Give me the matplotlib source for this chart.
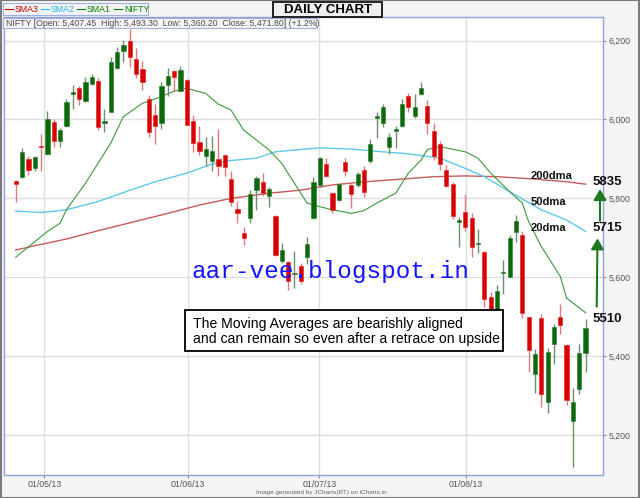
import matplotlib
matplotlib.use('Agg')
import matplotlib.pyplot as plt
from matplotlib.patches import Rectangle, FancyArrowPatch
from matplotlib.lines import Line2D

# ---------------- data ----------------
opens = [5844, 5855, 5900, 5878, 5933, 5912, 5994, 5945, 5984, 6065,
         6079, 6047, 6090, 6098, 5992, 6020, 6130, 6174, 6200, 6153,
         6128, 6052, 6011, 5990, 6087, 6122, 6073, 6100, 5997, 5942,
         5908, 5895, 5900, 5910, 5849, 5772, 5711, 5750, 5821, 5842,
         5807, 5756, 5641, 5638, 5609, 5629, 5651, 5750, 5834, 5886,
         5814, 5796, 5891, 5834, 5834, 5872, 5895, 6003, 5992, 5931,
         5972, 5984, 6060, 6010, 6065, 6034, 5971, 5938, 5872, 5836,
         5741, 5766, 5750, 5685, 5665, 5549, 5511, 5610, 5601, 5716,
         5707, 5499, 5354, 5497, 5283, 5430, 5500, 5428, 5236, 5317,
         5407.45]
highs = [5846, 5927, 5908, 5908, 5963, 6021, 6000, 5978, 6052, 6087,
         6085, 6108, 6115, 6106, 6027, 6159, 6183, 6201, 6229, 6180,
         6149, 6062, 6039, 6094, 6130, 6125, 6136, 6102, 6011, 5983,
         5956, 5958, 5975, 5912, 5869, 5793, 5728, 5821, 5857, 5864,
         5830, 5758, 5688, 5640, 5667, 5637, 5701, 5855, 5906, 5902,
         5817, 5840, 5902, 5836, 5866, 5882, 5950, 6020, 6039, 5967,
         5983, 6051, 6068, 6065, 6096, 6049, 5992, 5946, 5885, 5842,
         5754, 5810, 5764, 5722, 5667, 5562, 5580, 5644, 5707, 5758,
         5717, 5500, 5418, 5506, 5421, 5481, 5531, 5430, 5319, 5430,
         5493.30]
lows = [5792, 5852, 5859, 5869, 5869, 5910, 5931, 5929, 5982, 6027,
        6037, 6045, 6087, 5973, 5969, 6018, 6128, 6146, 6134, 6104,
        6075, 5956, 5938, 5976, 6060, 6070, 6072, 5985, 5918, 5910,
        5883, 5869, 5857, 5857, 5781, 5738, 5682, 5738, 5771, 5806,
        5779, 5655, 5635, 5568, 5572, 5582, 5633, 5748, 5830, 5855,
        5762, 5794, 5857, 5775, 5830, 5804, 5889, 5952, 5982, 5912,
        5927, 5982, 6020, 6003, 6062, 5963, 5897, 5872, 5830, 5749,
        5678, 5717, 5651, 5662, 5524, 5487, 5509, 5558, 5600, 5690,
        5497, 5361, 5306, 5270, 5255, 5380, 5455, 5276, 5120, 5303,
        5360.20]
closes = [5837, 5917, 5872, 5906, 5931, 6000, 5945, 5973, 6045, 6070,
          6052, 6095, 6107, 5981, 5997, 6146, 6170, 6189, 6158, 6115,
          6096, 5969, 5984, 6085, 6111, 6107, 6125, 5986, 5940, 5921,
          5925, 5921, 5882, 5879, 5790, 5762, 5700, 5810, 5851, 5814,
          5823, 5657, 5669, 5591, 5612, 5591, 5684, 5842, 5902, 5857,
          5771, 5836, 5869, 5811, 5861, 5816, 5937, 6009, 6032, 5956,
          5975, 6039, 6031, 6032, 6079, 5992, 5908, 5887, 5831, 5756,
          5744, 5728, 5677, 5687, 5544, 5520, 5566, 5614, 5699, 5743,
          5509, 5416, 5405, 5304, 5410, 5473, 5479, 5289, 5285, 5409,
          5471.80]

# moving averages (x = trading-day index)
sma1_x = [0, 2, 5, 7, 8, 11, 13, 15, 17, 20, 23, 25, 27, 30, 32, 34, 36, 40, 42,
          46, 48, 50, 53, 55, 57, 60, 62, 64, 65, 67, 71, 73, 75, 78, 80, 81, 83, 86, 87, 90]
sma1_y = [5651, 5677, 5716, 5737, 5771, 5838, 5889, 5940, 6007, 6041, 6058, 6072, 6079,
          6066, 6039, 6024, 5973, 5923, 5889, 5788, 5779, 5771, 5762, 5769, 5788, 5813,
          5864, 5897, 5924, 5931, 5918, 5902, 5864, 5817, 5788, 5741, 5678, 5602, 5547, 5510]
sma2_x = [0, 4, 8, 13, 19, 22, 27, 31, 34, 38, 41, 45, 48, 53, 58, 62, 67, 71, 74, 78, 83, 87, 90]
sma2_y = [5768, 5764, 5771, 5792, 5826, 5842, 5864, 5887, 5896, 5902, 5918, 5924, 5928,
          5925, 5918, 5913, 5902, 5876, 5855, 5817, 5771, 5745, 5716]
sma3_x = [0, 3, 8, 13, 19, 24, 29, 34, 40, 45, 50, 55, 61, 66, 71, 76, 82, 87, 90]
sma3_y = [5669, 5680, 5697, 5718, 5742, 5762, 5783, 5800, 5813, 5821, 5834, 5842, 5849,
          5855, 5857, 5855, 5849, 5842, 5836]

y_ticks = [5200, 5400, 5600, 5800, 6000, 6200]
y_tick_labels = ['5,200', '5,400', '5,600', '5,800', '6,000', '6,200']
x_ticks = [4.52, 27.25, 47.94, 71.06]
x_tick_labels = ['01/05/13', '01/06/13', '01/07/13', '01/08/13']

# ---------------- figure ----------------
W, H = 640, 498
fig = plt.figure(figsize=(6.4, 4.98), dpi=100, facecolor='#f4f4f4')
plt.rcParams['font.family'] = ['Liberation Sans', 'DejaVu Sans']


def fx(x):
    return x / W


def fy(y):
    return 1 - y / H


ax = fig.add_axes([fx(3.5), fy(474.5), fx(603) - fx(3.5), fy(16.7) - fy(474.5)])
ax.set_facecolor('white')
ax.set_xlim(-1.93, 92.74)
ax.set_ylim(5100, 6260.6)

for s in ax.spines.values():
    s.set_color('#8ea2dc')
    s.set_linewidth(1.0)

ax.grid(True, color='#dedede', lw=1.0, zorder=0)
ax.set_axisbelow(True)

ax.yaxis.tick_right()
ax.set_yticks(y_ticks)
ax.set_yticklabels(y_tick_labels)
ax.set_xticks(x_ticks)
ax.set_xticklabels(x_tick_labels)
ax.tick_params(axis='both', colors='#8a8a8a', labelcolor='#555555', labelsize=6.3,
               length=2.5, width=0.8, pad=1.5)

# moving averages
ax.plot(sma3_x, sma3_y, color='#c75a5a', lw=1.0, zorder=2)
ax.plot(sma2_x, sma2_y, color='#5cc8ec', lw=1.0, zorder=2)
ax.plot(sma1_x, sma1_y, color='#3a9a3a', lw=0.8, zorder=2)

# candles
for i, (o, h, l, c) in enumerate(zip(opens, highs, lows, closes)):
    up = c >= o
    wick = '#6e8f6e' if up else '#e07a7a'
    body = '#0a6a0a' if up else '#d90000'
    edge = '#3f7f3f' if up else '#e03030'
    ax.vlines(i, l, h, color=wick, lw=1.0, zorder=3)
    ax.bar(i, max(abs(c - o), 2.5), bottom=min(o, c), width=0.68,
           color=body, edgecolor=edge, linewidth=0.5, zorder=4)

# ---------------- header ----------------
# legend box
fig.patches.append(Rectangle((fx(3), fy(15.5)), fx(147.5) - fx(3), fy(3) - fy(15.5),
                             transform=fig.transFigure, facecolor='#f4f4f4',
                             edgecolor='#9fb0e0', lw=0.8))
leg = [('SMA3', '#c00000', 5), ('SMA2', '#20b8ea', 41), ('SMA1', '#008000', 77), ('NIFTY', '#008000', 114)]
for name, col, x0 in leg:
    fig.add_artist(Line2D([fx(x0), fx(x0 + 8)], [fy(9), fy(9)], color=col, lw=0.8,
                          transform=fig.transFigure))
    fig.text(fx(x0 + 10), fy(9.3), name, color=col, fontsize=6.3, va='center', ha='left')

# info box
fig.patches.append(Rectangle((fx(3), fy(28.5)), fx(316) - fx(3), fy(18.3) - fy(28.5),
                             transform=fig.transFigure, facecolor='#f6f6f6',
                             edgecolor='#9fb0e0', lw=0.8, zorder=5))
fig.text(fx(6.5), fy(23.6),
         'NIFTY [Open: 5,407.45  High: 5,493.30  Low: 5,360.20  Close: 5,471.80] (+1.2%)',
         color='#4a4a4a', fontsize=6.3, va='center', ha='left', zorder=6)

# title box
fig.patches.append(Rectangle((fx(273), fy(17.3)), fx(382) - fx(273), fy(2.3) - fy(17.3),
                             transform=fig.transFigure, facecolor='#f0f0f0',
                             edgecolor='#222222', lw=1.4))
fig.text(fx(327.5), fy(10), 'DAILY CHART', fontsize=9.5, fontweight='bold',
         color='black', ha='center', va='center')

# footer
fig.text(fx(321), fy(492.5), 'Image generated by JCharts(RT) on iCharts.in',
         fontsize=4.6, color='#666666', ha='center', va='center')

# outer frame
fig.patches.append(Rectangle((0.001, 0.001), 0.998, 0.998, transform=fig.transFigure,
                             fill=False, edgecolor='#7a7a7a', lw=1.5))

# ---------------- annotations ----------------
fig.text(fx(191.7), fy(277.5), 'aar-vee.blogspot.in', family='Liberation Mono',
         fontsize=17.6, color='#1414ff', ha='left', va='baseline', zorder=7)

fig.patches.append(Rectangle((fx(185.3), fy(351)), fx(503.3) - fx(185.3), fy(310.3) - fy(351),
                             transform=fig.transFigure, facecolor='white',
                             edgecolor='black', lw=1.3, zorder=6))
fig.text(fx(192.7), fy(328), 'The Moving Averages are bearishly aligned',
         fontsize=10.1, color='black', ha='left', va='baseline', zorder=7)
fig.text(fx(192.7), fy(342.7), 'and can remain so even after a retrace on upside',
         fontsize=10.1, color='black', ha='left', va='baseline', zorder=7)

for txt, y in [('200dma', 175.7), ('50dma', 201.7), ('20dma', 227.7)]:
    fig.text(fx(530.7), fy(y), txt, fontsize=8, fontweight='bold', color='#111111',
             ha='left', va='center', zorder=7)
for txt, y in [('5835', 182.3), ('5715', 227.7), ('5510', 319.3)]:
    fig.text(fx(592.3), fy(y), txt, fontsize=9.5, fontweight='bold', color='#111111',
             ha='left', va='center', zorder=7)

for (x0, y0, x1, y1) in [(600, 221, 600, 189), (596.7, 306.7, 597.5, 238.3)]:
    fig.add_artist(FancyArrowPatch((fx(x0), fy(y0)), (fx(x1), fy(y1)),
                                   transform=fig.transFigure,
                                   arrowstyle='-|>,head_length=0.65,head_width=0.38',
                                   mutation_scale=10, color='#1e7a1e', lw=1.5,
                                   shrinkA=0, shrinkB=0, zorder=8))

fig.savefig('out.png', dpi=100, facecolor=fig.get_facecolor())
